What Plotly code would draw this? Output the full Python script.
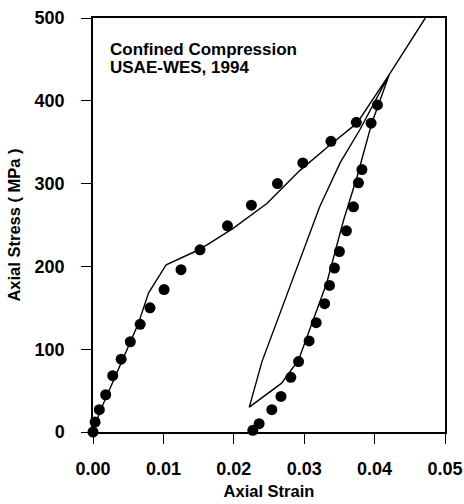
import plotly.graph_objects as go

# Measured data (USAE-WES, 1994)
test_strain = [0.0000, 0.0003, 0.0009, 0.0018, 0.0028, 0.0040, 0.0053, 0.0067, 0.0081,
               0.0101, 0.0125, 0.0152, 0.0191, 0.0225, 0.0262, 0.0298, 0.0338, 0.0374,
               0.0404, 0.0395, 0.0382, 0.0377, 0.0370, 0.0360, 0.0350, 0.0343, 0.0336,
               0.0329, 0.0317, 0.0307, 0.0292, 0.0281, 0.0267, 0.0254, 0.0236, 0.0227]
test_stress = [0, 12, 27, 45, 68, 88, 109, 130, 150,
               172, 196, 220, 249, 274, 300, 325, 351, 374,
               395, 373, 317, 301, 272, 243, 218, 198, 177,
               155, 132, 110, 85, 66, 43, 27, 10, 2]

# Model curve: loading, unloading, reloading, continued loading
model_strain = [0.0000, 0.0010, 0.0064, 0.0079, 0.0104, 0.0145, 0.0162, 0.0199, 0.0247,
                0.0294, 0.0337, 0.0375, 0.0421,
                0.0396, 0.0375, 0.0356, 0.0332, 0.0313, 0.0292, 0.0268, 0.0222,
                0.0240, 0.0272, 0.0296, 0.0322, 0.0351, 0.0379, 0.0421,
                0.0447, 0.0472]
model_stress = [0, 25, 130, 168, 202, 218, 226, 246, 276,
                316, 347, 373, 432,
                373, 308, 256, 180, 135, 87, 59, 30,
                85, 157, 213, 272, 325, 365, 432,
                466, 500]

x_ticks = [0.00, 0.01, 0.02, 0.03, 0.04, 0.05]
x_tick_text = ["0.00", "0.01", "0.02", "0.03", "0.04", "0.05"]
y_ticks = [0, 100, 200, 300, 400, 500]
note_lines = ["Confined Compression", "USAE-WES, 1994"]

FONT = "Liberation Sans, Arial, sans-serif"

fig = go.Figure()
fig.add_trace(go.Scatter(x=model_strain, y=model_stress, mode="lines",
                         line=dict(color="black", width=1.4),
                         showlegend=False, cliponaxis=False))
fig.add_trace(go.Scatter(x=test_strain, y=test_stress, mode="markers",
                         marker=dict(color="black", size=11, symbol="circle"),
                         showlegend=False, cliponaxis=False))

for txt, yp in zip(note_lines, [0.925, 0.881]):
    fig.add_annotation(text=txt, xref="paper", yref="paper", x=0.043, y=yp,
                       xanchor="left", yanchor="middle", align="left", showarrow=False,
                       font=dict(family=FONT, size=17, color="black", weight="bold"))

axis_common = dict(showline=True, linecolor="black", linewidth=1.5, mirror=True,
                   showgrid=False, zeroline=False, ticks="outside", ticklen=10,
                   tickwidth=1.3, tickcolor="black", automargin=False,
                   tickfont=dict(family=FONT, size=18, color="black", weight="bold"))

fig.update_xaxes(range=[0, 0.05], tickvals=x_ticks, ticktext=x_tick_text,
                 title=dict(text="Axial Strain", standoff=7,
                            font=dict(family=FONT, size=16.5, color="black", weight="bold")),
                 ticklabelstandoff=10, **axis_common)
fig.update_yaxes(range=[0, 500], tickvals=y_ticks,
                 title=dict(text="Axial Stress ( MPa )", standoff=10,
                            font=dict(family=FONT, size=16.5, color="black", weight="bold")),
                 ticklabelstandoff=13, **axis_common)

fig.update_layout(width=464, height=504,
                  margin=dict(l=93, r=19, t=18, b=72),
                  plot_bgcolor="white", paper_bgcolor="white",
                  font=dict(family=FONT, color="black"))

# Remove the browser's default 8px body margin so the figure fills the window exactly.
fig.write_html("out.html", config={"displayModeBar": False},
               post_script="document.body.style.margin='0';document.body.style.overflow='hidden';")
